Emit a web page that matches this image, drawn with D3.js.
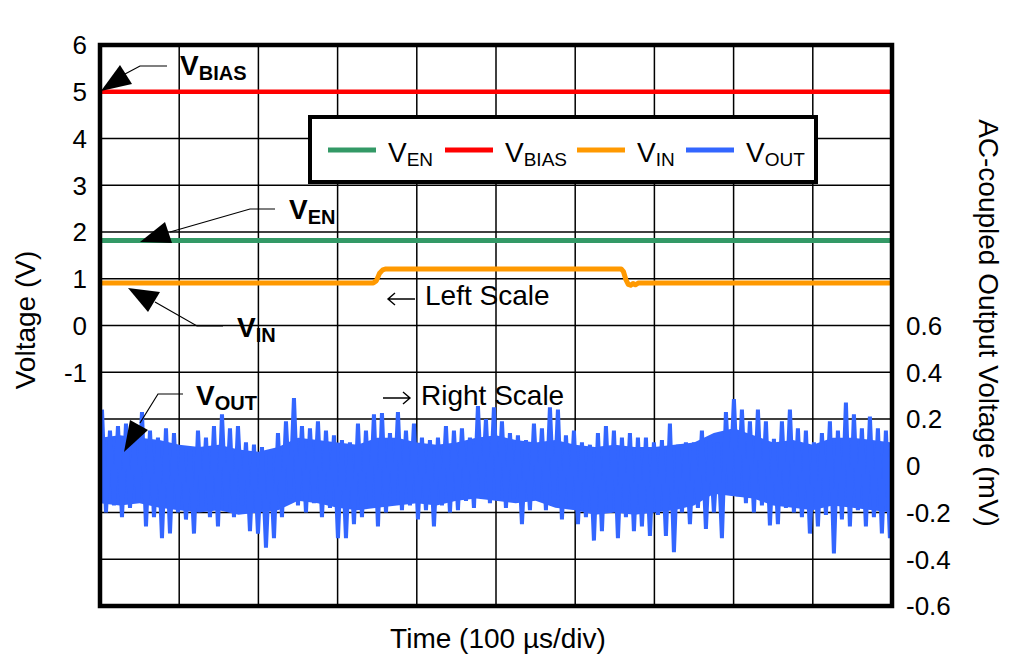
<!DOCTYPE html>
<html lang="en">
<head>
<meta charset="UTF-8">
<script src="https://d3js.org/d3.v7.min.js"></script>
<style>
  body { margin: 0; background: white; }
  text { font-family: "Liberation Sans", Arial, sans-serif; fill: black; }
</style>
</head>
<body>
<div id="chart"></div>
<script>
// ---- data ----
const timeDomainUs = [0, 1000];
const timeGridUs = [0, 100, 200, 300, 400, 500, 600, 700, 800, 900, 1000];
const leftDomainV = [-6, 6];
const leftGridV = [6, 5, 4, 3, 2, 1, 0, -1, -2, -3, -4, -5, -6];
const leftTickV = [6, 5, 4, 3, 2, 1, 0, -1];
const rightDomainMv = [-0.6, 0.6];
const rightTickMv = [0.6, 0.4, 0.2, 0, -0.2, -0.4, -0.6];

const vbias = [[0, 5.0], [250, 5.0], [500, 5.0], [750, 5.0], [1000, 5.0]];
const ven = [[0, 1.82], [250, 1.82], [500, 1.82], [750, 1.82], [1000, 1.82]];
const vin = [[0, 0.91], [345, 0.91], [349, 0.96], [353, 1.12], [357, 1.19], [361, 1.21],
             [658, 1.21], [661, 1.15], [664, 0.98], [667, 0.88], [670, 0.86], [673, 0.9],
             [676, 0.87], [680, 0.91], [1000, 0.91]];

// AC-coupled output noise, mV, one sample every 5.05 us (peaks)
const voutStartUs = 2.5, voutStepUs = 5.05;
const voutMv = [
  0.24, -0.20, 0.15, -0.17, 0.17, -0.22, 0.18, -0.18, 0.10, -0.15,
  0.23, -0.26, 0.15, -0.22, 0.12, -0.31, 0.16, -0.29, 0.14, -0.20,
  0.08, -0.23, 0.07, -0.29, 0.15, -0.18, 0.12, -0.22, 0.17, -0.26,
  0.22, -0.19, 0.16, -0.22, 0.17, -0.17, 0.10, -0.28, 0.09, -0.29,
  0.08, -0.35, 0.05, -0.31, 0.14, -0.22, 0.19, -0.14, 0.29, -0.17,
  0.17, -0.20, 0.16, -0.16, 0.19, -0.22, 0.15, -0.18, 0.13, -0.31,
  0.11, -0.31, 0.10, -0.25, 0.18, -0.22, 0.15, -0.18, 0.22, -0.26,
  0.225, -0.20, 0.14, -0.16, 0.23, -0.19, 0.15, -0.17, 0.18, -0.23,
  0.12, -0.19, 0.11, -0.26, 0.12, -0.17, 0.17, -0.20, 0.15, -0.19,
  0.16, -0.15, 0.12, -0.18, 0.255, -0.14, 0.20, -0.16, 0.25, -0.15,
  0.19, -0.18, 0.14, -0.14, 0.13, -0.25, 0.11, -0.19, 0.18, -0.15,
  0.16, -0.19, 0.25, -0.16, 0.24, -0.23, 0.13, -0.18, 0.15, -0.25,
  0.10, -0.22, 0.09, -0.32, 0.14, -0.28, 0.17, -0.20, 0.15, -0.31,
  0.12, -0.22, 0.14, -0.28, 0.12, -0.26, 0.12, -0.30, 0.10, -0.21,
  0.11, -0.30, 0.18, -0.37, 0.09, -0.20, 0.10, -0.25, 0.10, -0.18,
  0.15, -0.27, 0.11, -0.20, 0.10, -0.31, 0.23, -0.115, 0.285, -0.13,
  0.24, -0.16, 0.19, -0.20, 0.24, -0.17, 0.19, -0.255, 0.115, -0.25,
  0.19, -0.18, 0.24, -0.20, 0.16, -0.22, 0.15, -0.29, 0.10, -0.26,
  0.14, -0.21, 0.19, -0.375, 0.15, -0.23, 0.27, -0.26, 0.22, -0.19,
  0.16, -0.26, 0.21, -0.22, 0.16, -0.29, 0.15, -0.31
];
// dense core of the noise band (solid fill), every 25 us
const voutCoreUs = [0, 25, 50, 75, 100, 125, 150, 175, 200, 225, 250, 275, 300, 325, 350, 375, 400,
                    425, 450, 475, 500, 525, 550, 575, 600, 625, 650, 675, 700, 725, 750, 775, 800,
                    825, 850, 875, 900, 925, 950, 975, 1000];
const voutCoreHiMv = [0.12, 0.13, 0.12, 0.11, 0.09, 0.08, 0.09, 0.07, 0.06, 0.08, 0.12, 0.11, 0.10, 0.09,
                      0.12, 0.12, 0.10, 0.09, 0.10, 0.12, 0.13, 0.11, 0.10, 0.11, 0.09, 0.08, 0.09, 0.08,
                      0.08, 0.09, 0.10, 0.14, 0.16, 0.13, 0.10, 0.11, 0.09, 0.12, 0.12, 0.11, 0.10];
const voutCoreLoMv = [-0.16, -0.17, -0.16, -0.18, -0.19, -0.20, -0.19, -0.21, -0.20, -0.19, -0.15, -0.16,
                      -0.18, -0.19, -0.18, -0.17, -0.16, -0.17, -0.15, -0.14, -0.15, -0.16, -0.15, -0.18,
                      -0.19, -0.21, -0.20, -0.21, -0.20, -0.19, -0.17, -0.12, -0.13, -0.14, -0.17, -0.18,
                      -0.19, -0.17, -0.18, -0.19, -0.20];

const legendItems = [
  { main: "V", sub: "EN", color: "#339966" },
  { main: "V", sub: "BIAS", color: "#ff0000" },
  { main: "V", sub: "IN", color: "#ff9900" },
  { main: "V", sub: "OUT", color: "#3366ff" }
];

// ---- layout ----
const W = 1016, H = 668;
const plot = { left: 100, right: 892, top: 45, bottom: 606 };

const svg = d3.select("#chart").append("svg")
  .attr("width", W).attr("height", H);

const x = d3.scaleLinear().domain(timeDomainUs).range([plot.left, plot.right]);
const yL = d3.scaleLinear().domain(leftDomainV).range([plot.bottom, plot.top]);
const yR = d3.scaleLinear().domain(rightDomainMv).range([plot.bottom, yL(0)]);

// grid
svg.append("g").selectAll("line").data(timeGridUs).join("line")
  .attr("x1", d => x(d)).attr("x2", d => x(d))
  .attr("y1", plot.top).attr("y2", plot.bottom)
  .attr("stroke", "black").attr("stroke-width", 1.5);
svg.append("g").selectAll("line").data(leftGridV).join("line")
  .attr("x1", plot.left).attr("x2", plot.right)
  .attr("y1", d => yL(d)).attr("y2", d => yL(d))
  .attr("stroke", "black").attr("stroke-width", 1.5);

// left / right tick labels
svg.append("g").selectAll("text").data(leftTickV).join("text")
  .attr("x", 87).attr("y", d => yL(d)).attr("dy", "0.36em")
  .attr("text-anchor", "end").style("font-size", "26px")
  .text(d => String(d));
svg.append("g").selectAll("text").data(rightTickMv).join("text")
  .attr("x", 906).attr("y", d => yR(d)).attr("dy", "0.36em")
  .attr("text-anchor", "start").style("font-size", "26px")
  .text(d => d === 0 ? "0" : d.toFixed(1));

// axis titles
svg.append("text")
  .attr("x", (plot.left + plot.right) / 2 + 2).attr("y", 648)
  .attr("text-anchor", "middle").style("font-size", "28px")
  .text("Time (100 µs/div)");
svg.append("text")
  .attr("transform", "translate(35,320) rotate(-90)")
  .attr("text-anchor", "middle").style("font-size", "28px")
  .text("Voltage (V)");
svg.append("text")
  .attr("transform", "translate(979,323) rotate(90)")
  .attr("text-anchor", "middle").style("font-size", "28px")
  .text("AC-coupled Output Voltage (mV)");

// legend box
const lg = svg.append("g");
lg.append("rect").attr("x", 310).attr("y", 117).attr("width", 506).attr("height", 65)
  .attr("fill", "white").attr("stroke", "black").attr("stroke-width", 4);
const legendX = [328, 445, 577, 686];
legendItems.forEach((d, i) => {
  const g = lg.append("g").attr("transform", `translate(${legendX[i]},150)`);
  g.append("line").attr("x1", 0).attr("x2", 48).attr("y1", 0).attr("y2", 0)
    .attr("stroke", d.color).attr("stroke-width", 5);
  const t = g.append("text").attr("x", 60).attr("y", 12);
  t.append("tspan").style("font-size", "28px").text(d.main);
  t.append("tspan").style("font-size", "19px").attr("dy", 3.5).text(d.sub);
});

// traces
const lineL = d3.line().x(d => x(d[0])).y(d => yL(d[1]));
svg.append("path").datum(vbias).attr("d", lineL)
  .attr("fill", "none").attr("stroke", "#ff0000").attr("stroke-width", 4.5);
svg.append("path").datum(ven).attr("d", lineL)
  .attr("fill", "none").attr("stroke", "#339966").attr("stroke-width", 5);
svg.append("path").datum(vin).attr("d", lineL)
  .attr("fill", "none").attr("stroke", "#ff9900").attr("stroke-width", 5)
  .attr("stroke-linejoin", "round");

const coreArea = d3.area()
  .x((d, i) => x(voutCoreUs[i]))
  .y0((d, i) => yR(voutCoreLoMv[i]))
  .y1(d => yR(d));
svg.append("path").datum(voutCoreHiMv).attr("d", coreArea)
  .attr("fill", "#3366ff");
const lineR = d3.line()
  .x((d, i) => x(voutStartUs + i * voutStepUs))
  .y(d => yR(d));
svg.append("path").datum(voutMv).attr("d", lineR)
  .attr("fill", "none").attr("stroke", "#3366ff").attr("stroke-width", 4)
  .attr("stroke-linejoin", "miter");

// plot frame
svg.append("rect")
  .attr("x", plot.left).attr("y", plot.top)
  .attr("width", plot.right - plot.left).attr("height", plot.bottom - plot.top)
  .attr("fill", "none").attr("stroke", "black").attr("stroke-width", 4.5);

// in-plot notes with thin arrows
const arrowL = [[388, 299], [415, 299]];
svg.append("path").attr("d", d3.line()(arrowL) + "M395,293L388,299L395,305")
  .attr("fill", "none").attr("stroke", "black").attr("stroke-width", 1.4);
svg.append("text").attr("x", 425).attr("y", 305).style("font-size", "28px").text("Left Scale");
const arrowR = [[383, 398], [410, 398]];
svg.append("path").attr("d", d3.line()(arrowR) + "M403,392L410,398L403,404")
  .attr("fill", "none").attr("stroke", "black").attr("stroke-width", 1.4);
svg.append("text").attr("x", 421).attr("y", 405).style("font-size", "28px").text("Right Scale");

// callouts with arrows
const callouts = [
  { main: "V", sub: "BIAS", tx: 180, ty: 75, tri: [[101, 91], [120, 65], [132, 84]], path: [[125, 74], [140, 66], [167, 66]] },
  { main: "V", sub: "EN", tx: 289, ty: 219, tri: [[140, 242], [165, 222], [172, 243]], path: [[170, 232], [250, 209], [275, 209]] },
  { main: "V", sub: "IN", tx: 237, ty: 337, tri: [[128, 288], [160, 292], [148, 312]], path: [[155, 302], [197, 326], [223, 326]] },
  { main: "V", sub: "OUT", tx: 196, ty: 405, tri: [[130, 420], [148, 430], [124, 452]], path: [[140, 423], [158, 394], [183, 394]] }
];
callouts.forEach(c => {
  svg.append("path").attr("d", d3.line()(c.path))
    .attr("fill", "none").attr("stroke", "black").attr("stroke-width", 1.2);
  svg.append("path").attr("d", d3.line()(c.tri) + "Z").attr("fill", "black");
  const t = svg.append("text").attr("x", c.tx).attr("y", c.ty).style("font-weight", "bold");
  t.append("tspan").style("font-size", "28px").text(c.main);
  t.append("tspan").style("font-size", "20px").attr("dy", 5).text(c.sub);
});
</script>
</body>
</html>
